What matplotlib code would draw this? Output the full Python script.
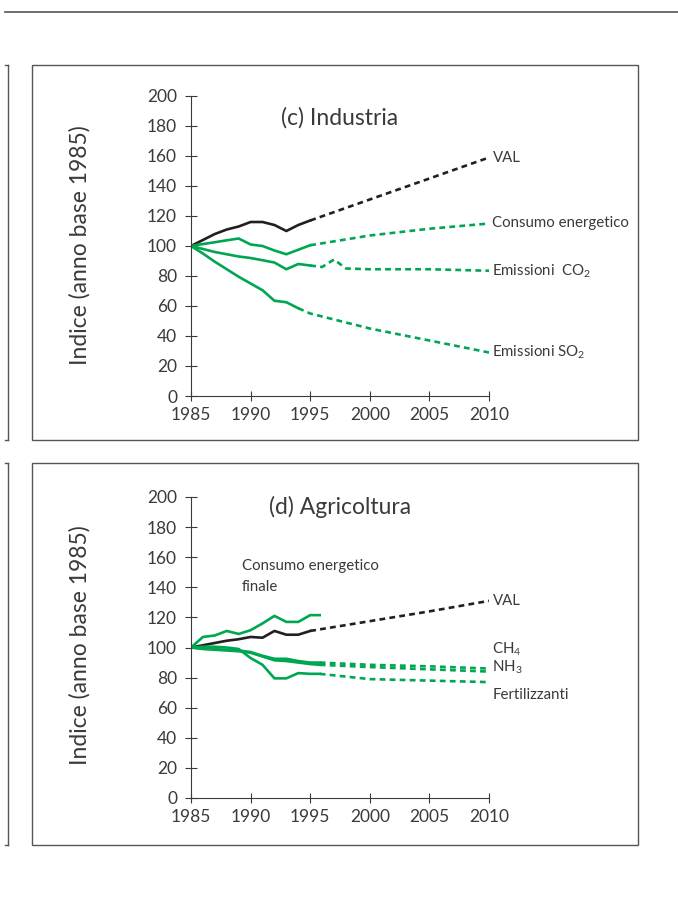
"""
Indici 1985 = 100: (c) Industria e (d) Agricoltura, con proiezioni al 2010
"""

import matplotlib
matplotlib.use("Agg")
import matplotlib.pyplot as plt
from matplotlib.patches import Rectangle
from matplotlib.lines import Line2D

plt.rcParams['font.family'] = ['Lato', 'DejaVu Sans']
plt.rcParams['mathtext.fontset'] = 'custom'
plt.rcParams['mathtext.rm'] = 'Lato'

VERDE = '#00a651'
NERO = '#231f20'
GRIGIO = '#3a3a3a'

# ---- (c) Industria -------------------------------------------------------
anni_ind = [1985, 1986, 1987, 1988, 1989, 1990, 1991, 1992, 1993, 1994, 1995]
val_ind = [100, 104, 108, 111, 113, 116, 116, 114, 110, 114, 117]
cons_ind = [100, 101.3, 102.5, 103.8, 105, 101, 100, 97, 94.5, 97.5, 100.5]
co2_ind = [100, 98, 96, 94.5, 93, 92, 90.5, 89, 84.5, 88, 87]
anni_so2 = [1985, 1986, 1987, 1988, 1989, 1990, 1991, 1992, 1993, 1994]
so2_ind = [100, 95, 89.5, 84.5, 79.5, 75, 70.5, 63.5, 62.5, 58.5]

# proiezioni (tratteggio)
anni_proj = [1995, 2000, 2005, 2010]
val_ind_proj = [117, 131, 145, 159]
cons_ind_proj = [100.5, 107, 111.5, 115]
anni_co2_proj = [1995, 1996, 1997, 1998, 2000, 2005, 2010]
co2_ind_proj = [87, 86, 91, 85, 84.5, 84.5, 83.5]
anni_so2_proj = [1994, 1995, 2000, 2005, 2010]
so2_ind_proj = [58.5, 55, 45, 37, 29]

# ---- (d) Agricoltura -----------------------------------------------------
anni_agr = [1985, 1986, 1987, 1988, 1989, 1990, 1991, 1992, 1993, 1994, 1995]
val_agr = [100, 101.5, 103, 104.5, 105.5, 107, 106.5, 111, 108.5, 108.5, 111]
anni_agr2 = [1985, 1986, 1987, 1988, 1989, 1990, 1991, 1992, 1993, 1994, 1995, 1995.8]
cons_agr = [100, 107, 108, 111, 109, 111.5, 116, 121, 117, 117, 121.5, 121.5]
ch4_agr = [100, 99.5, 99, 98.5, 98, 97, 94.5, 92.5, 92.5, 91, 90, 90]
nh3_agr = [100, 99, 98.5, 98, 97.5, 96.5, 94, 91.5, 91, 90, 89, 88.5]
fert_agr = [100, 100.5, 100.5, 100, 99, 93, 88.5, 79.5, 79.5, 83, 82.5, 82.5]

val_agr_proj = [111, 117.5, 124, 131]
anni_agr_proj = [1995.8, 2000, 2005, 2010]
ch4_agr_proj = [90, 88.5, 87.5, 86]
nh3_agr_proj = [88.5, 87, 85.5, 84]
fert_agr_proj = [82.5, 79, 78, 77]

y_ticks = [0, 20, 40, 60, 80, 100, 120, 140, 160, 180, 200]
x_ticks = [1985, 1990, 1995, 2000, 2005, 2010]

LW = 1.9
TRATTO = (2.2, 1.6)


def stile_assi(ax):
    for s in ['top', 'right']:
        ax.spines[s].set_visible(False)
    for s in ['left', 'bottom']:
        ax.spines[s].set_color(GRIGIO)
        ax.spines[s].set_linewidth(0.8)
    ax.set_xlim(1985, 2010)
    ax.set_ylim(0, 200)
    ax.set_xticks(x_ticks)
    ax.set_yticks(y_ticks)
    ax.tick_params(axis='y', direction='inout', length=8, width=0.8, color=GRIGIO,
                   labelsize=12.5, labelcolor=GRIGIO, pad=6)
    ax.tick_params(axis='x', direction='inout', length=7, width=0.8, color=GRIGIO,
                   labelsize=12.5, labelcolor=GRIGIO, pad=4.5)
    ax.patch.set_alpha(0)


def etichetta(ax, testo, x, y, dy=0, size=10.8):
    ax.annotate(testo, (x, y), xytext=(2.5, dy), textcoords='offset points',
                ha='left', va='center', fontsize=size, color=GRIGIO)


fig = plt.figure(figsize=(6.78, 9.08), dpi=100)

# cornici e filetti di pagina
fig.add_artist(Line2D([5 / 678, 1], [1 - 12 / 908] * 2, color='#555555', lw=1.2))
for y0, y1 in [(65, 440), (463, 845)]:
    fig.add_artist(Rectangle((32 / 678, 1 - y1 / 908), 606 / 678, (y1 - y0) / 908,
                             fill=False, ec='#555555', lw=1.0))
    fig.add_artist(Line2D([8 / 678] * 2, [1 - y0 / 908, 1 - y1 / 908], color='#555555', lw=1.0))
    fig.add_artist(Line2D([5 / 678, 8 / 678], [1 - y0 / 908] * 2, color='#555555', lw=1.0))
    fig.add_artist(Line2D([5 / 678, 8 / 678], [1 - y1 / 908] * 2, color='#555555', lw=1.0))

# (c) Industria
ax1 = fig.add_axes([191 / 678, 1 - 396 / 908, 298 / 678, 300 / 908])
stile_assi(ax1)
ax1.plot(anni_ind, val_ind, color=NERO, lw=LW)
ax1.plot(anni_ind, cons_ind, color=VERDE, lw=LW)
ax1.plot(anni_ind, co2_ind, color=VERDE, lw=LW)
ax1.plot(anni_so2, so2_ind, color=VERDE, lw=LW)
ax1.plot(anni_proj, val_ind_proj, color=NERO, lw=LW, dashes=TRATTO)
ax1.plot(anni_proj, cons_ind_proj, color=VERDE, lw=LW, dashes=TRATTO)
ax1.plot(anni_co2_proj, co2_ind_proj, color=VERDE, lw=LW, dashes=TRATTO)
ax1.plot(anni_so2_proj, so2_ind_proj, color=VERDE, lw=LW, dashes=TRATTO)
ax1.text(0.5, 0.927, '(c) Industria', transform=ax1.transAxes, ha='center', va='center',
         fontsize=16.5, color=GRIGIO)
etichetta(ax1, 'VAL', anni_proj[-1], val_ind_proj[-1])
etichetta(ax1, 'Consumo energetico', anni_proj[-1], cons_ind_proj[-1])
etichetta(ax1, 'Emissioni  CO$_2$', anni_co2_proj[-1], co2_ind_proj[-1])
etichetta(ax1, 'Emissioni SO$_2$', anni_so2_proj[-1], so2_ind_proj[-1])

# (d) Agricoltura
ax2 = fig.add_axes([191 / 678, 1 - 798 / 908, 298 / 678, 301 / 908])
stile_assi(ax2)
ax2.plot(anni_agr, val_agr, color=NERO, lw=LW)
ax2.plot(anni_agr2, cons_agr, color=VERDE, lw=LW)
ax2.plot(anni_agr2, ch4_agr, color=VERDE, lw=LW)
ax2.plot(anni_agr2, nh3_agr, color=VERDE, lw=LW)
ax2.plot(anni_agr2, fert_agr, color=VERDE, lw=LW)
ax2.plot(anni_proj, val_agr_proj, color=NERO, lw=LW, dashes=TRATTO)
ax2.plot(anni_agr_proj, ch4_agr_proj, color=VERDE, lw=LW, dashes=TRATTO)
ax2.plot(anni_agr_proj, nh3_agr_proj, color=VERDE, lw=LW, dashes=TRATTO)
ax2.plot(anni_agr_proj, fert_agr_proj, color=VERDE, lw=LW, dashes=TRATTO)
ax2.text(0.5, 0.967, '(d) Agricoltura', transform=ax2.transAxes, ha='center', va='center',
         fontsize=16.5, color=GRIGIO)
ax2.text(0.17, 0.735, 'Consumo energetico\nfinale', transform=ax2.transAxes, ha='left',
         va='center', fontsize=10.8, color=GRIGIO, linespacing=1.6)
etichetta(ax2, 'VAL', anni_proj[-1], val_agr_proj[-1])
etichetta(ax2, 'CH$_4$', anni_agr_proj[-1], ch4_agr_proj[-1], dy=14)
etichetta(ax2, 'NH$_3$', anni_agr_proj[-1], nh3_agr_proj[-1], dy=3)
etichetta(ax2, 'Fertilizzanti', anni_agr_proj[-1], fert_agr_proj[-1], dy=-9)

for yc in [245, 645]:
    fig.text(80 / 678, 1 - yc / 908, 'Indice (anno base 1985)', rotation=90,
             ha='center', va='center', fontsize=16.5, color=GRIGIO)

fig.savefig('out.png', dpi=100)
